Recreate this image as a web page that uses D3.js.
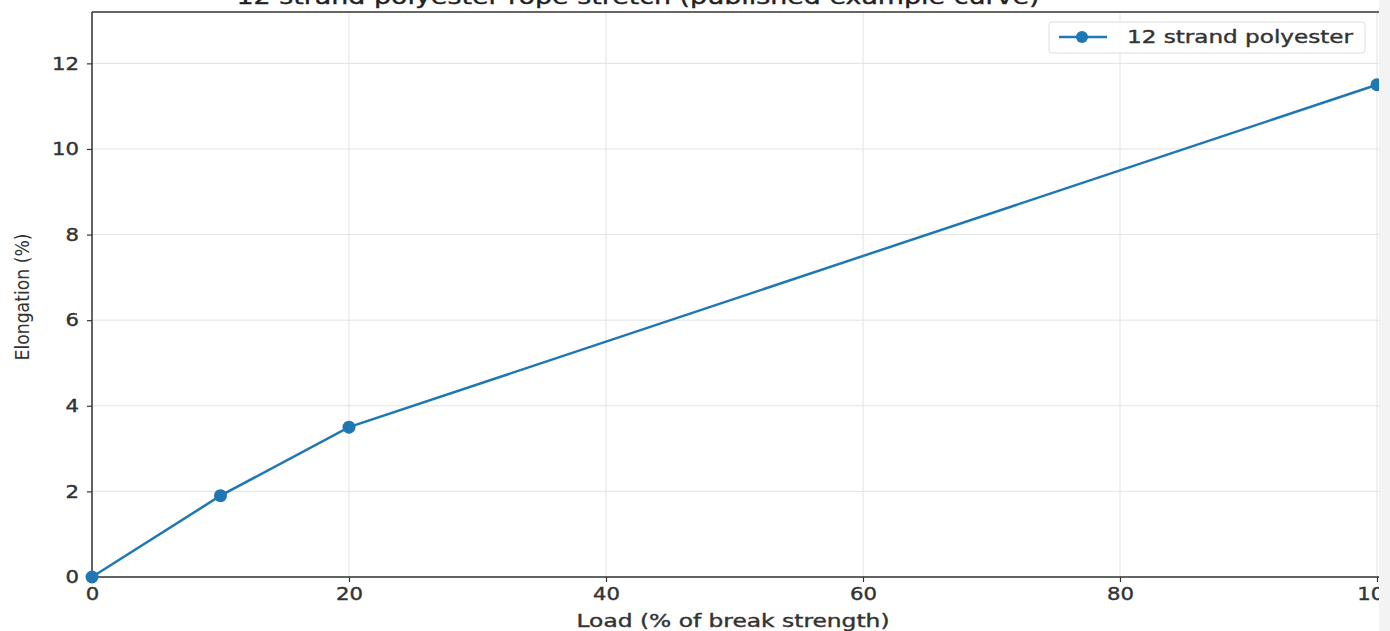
<!DOCTYPE html>
<html>
<head>
<meta charset="utf-8">
<script src="https://cdn.jsdelivr.net/npm/d3@7"></script>
<style>
  body { margin: 0; background: #fff; }
  svg { display: block; }
  text { font-family: "DejaVu Sans", sans-serif; fill: #333; }
</style>
</head>
<body>
<svg id="chart" width="1390" height="631"></svg>
<script>
var load = [0, 10, 20, 100];
var elongation = [0, 1.9, 3.5, 11.5];
var seriesName = "12 strand polyester";
var xTicks = [0, 20, 40, 60, 80, 100];
var yTicks = [0, 2, 4, 6, 8, 10, 12];
var titleText = "12 strand polyester rope stretch (published example curve)";

var svg = d3.select('svg#chart');
var blue = "#1f77b4";

// plot area (right side of the original figure is cut off)
var plotL = 92, plotT = 12, plotB = 577, plotR = 1377;
var x = d3.scaleLinear().domain([0, 100]).range([plotL, plotR]);
var y = d3.scaleLinear().domain([0, 13.2]).range([plotB, plotT]);

var pts = load.map(function(d, i){ return [d, elongation[i]]; });

// grid
svg.append('g').selectAll('line').data(xTicks).enter().append('line')
  .attr('x1', d => x(d)).attr('x2', d => x(d)).attr('y1', plotT).attr('y2', plotB)
  .style('stroke', '#e3e3e3').style('stroke-width', '1px');
svg.append('g').selectAll('line').data(yTicks).enter().append('line')
  .attr('x1', plotL).attr('x2', 1380).attr('y1', d => y(d)).attr('y2', d => y(d))
  .style('stroke', '#e3e3e3').style('stroke-width', '1px');

// axes
var xAxis = svg.append('g').attr('transform', 'translate(0,' + plotB + ')')
  .call(d3.axisBottom(x).tickValues(xTicks).tickSize(5).tickPadding(5));
var yAxis = svg.append('g').attr('transform', 'translate(' + plotL + ',0)')
  .call(d3.axisLeft(y).tickValues(yTicks).tickSize(5).tickPadding(8));
[xAxis, yAxis].forEach(function(a){
  a.select('.domain').remove();
  a.selectAll('line').style('stroke', '#333').style('stroke-width', '1.2px');
  a.selectAll('text').style('font-size', '18px').style('fill', '#333')
    .style('stroke', '#333').style('stroke-width', '0.4px')
    .style('font-family', '"DejaVu Sans", sans-serif')
    .attr('textLength', function(d){ return String(d).length * 13.5; })
    .attr('lengthAdjust', 'spacingAndGlyphs');
});

// spines
svg.append('line').attr('x1', plotL).attr('x2', plotL).attr('y1', plotT).attr('y2', plotB)
  .style('stroke', '#333').style('stroke-width', '1.5px');
svg.append('line').attr('x1', plotL).attr('x2', 1380).attr('y1', plotB).attr('y2', plotB)
  .style('stroke', '#333').style('stroke-width', '1.5px');
svg.append('line').attr('x1', plotL).attr('x2', 1380).attr('y1', plotT).attr('y2', plotT)
  .style('stroke', '#333').style('stroke-width', '1.5px');

// series
var line = d3.line().x(d => x(d[0])).y(d => y(d[1]));
svg.append('path').datum(pts).attr('d', line)
  .style('fill', 'none').style('stroke', blue).style('stroke-width', '2.5px');
svg.append('g').selectAll('circle').data(pts).enter().append('circle')
  .attr('cx', d => x(d[0])).attr('cy', d => y(d[1])).attr('r', 6.5)
  .style('fill', blue);

// legend
var lg = svg.append('g');
lg.append('rect').attr('x', 1049).attr('y', 22).attr('width', 316).attr('height', 31).attr('rx', 3)
  .style('fill', '#fff').style('fill-opacity', 0.85).style('stroke', '#ddd');
lg.append('line').attr('x1', 1059).attr('x2', 1107).attr('y1', 37).attr('y2', 37)
  .style('stroke', blue).style('stroke-width', '2.5px');
lg.append('circle').attr('cx', 1082).attr('cy', 37).attr('r', 6).style('fill', blue);
lg.append('text').attr('x', 1127).attr('y', 43).text(seriesName)
  .style('font-size', '18px').style('stroke', '#333').style('stroke-width', '0.4px')
  .attr('textLength', 226).attr('lengthAdjust', 'spacingAndGlyphs');

// labels
svg.append('text').attr('x', 733).attr('y', 627).attr('text-anchor', 'middle')
  .style('font-size', '18px').style('stroke', '#333').style('stroke-width', '0.4px')
  .attr('textLength', 313).attr('lengthAdjust', 'spacingAndGlyphs')
  .text("Load (% of break strength)");
svg.append('text').attr('transform', 'translate(29,297) rotate(-90)').attr('text-anchor', 'middle')
  .style('font-family', '"Liberation Sans Narrow", "DejaVu Sans Condensed", sans-serif')
  .style('font-size', '19px').attr('textLength', 127).attr('lengthAdjust', 'spacingAndGlyphs')
  .text("Elongation (%)");
svg.append('text').attr('x', 638).attr('y', 4).attr('text-anchor', 'middle')
  .style('font-size', '22px').attr('textLength', 803).attr('lengthAdjust', 'spacingAndGlyphs')
  .style('fill', '#222').style('stroke', '#222').style('stroke-width', '0.4px').text(titleText);

// cut-off right edge
svg.append('rect').attr('x', 1379).attr('y', 0).attr('width', 11).attr('height', 631)
  .style('fill', '#f3f3f3');
</script>
</body>
</html>
